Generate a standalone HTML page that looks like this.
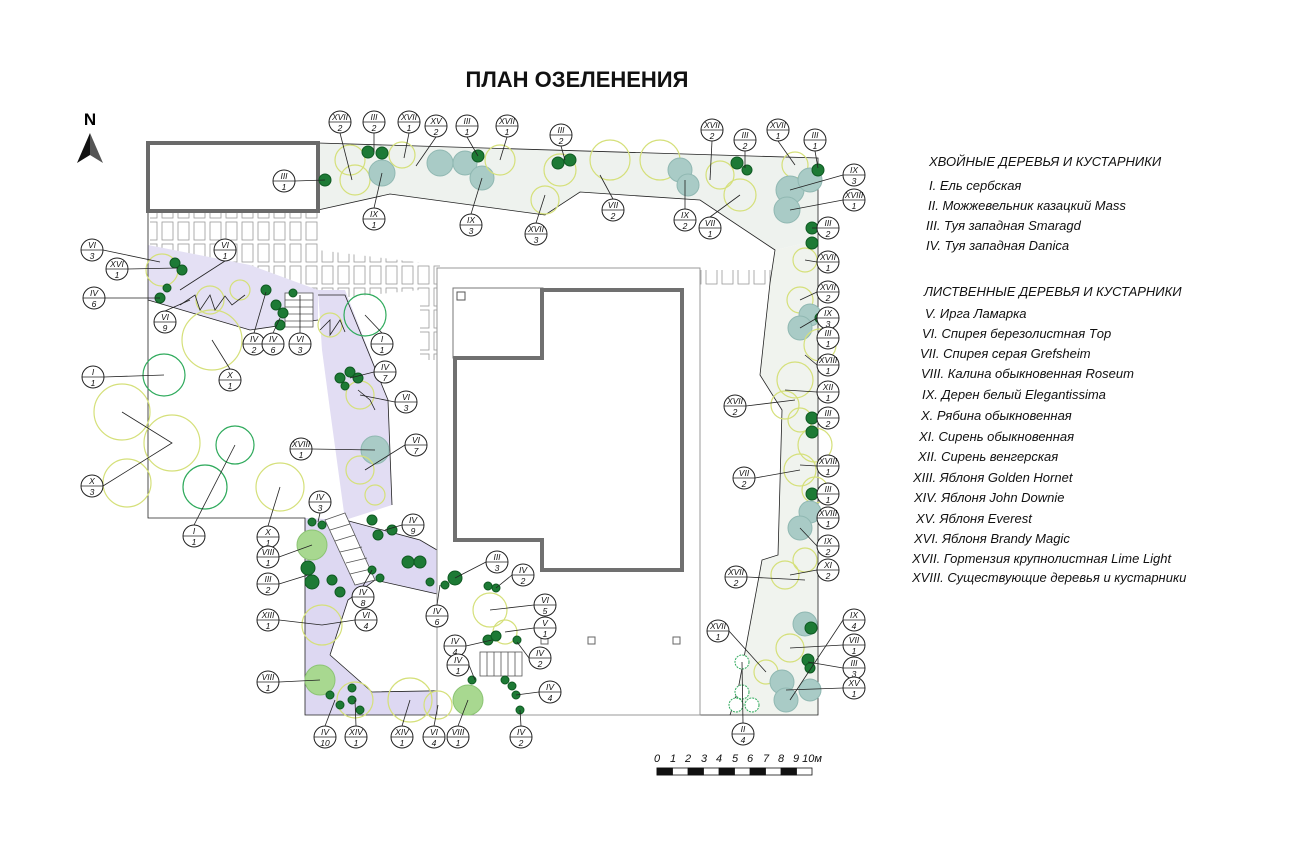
<!DOCTYPE html>
<html><head><meta charset="utf-8"><style>
html,body{margin:0;padding:0;background:#fff;}
svg{display:block;font-family:"Liberation Sans",sans-serif;}
.lb circle{fill:#fff;stroke:#222;stroke-width:1}
.lb line{stroke:#222;stroke-width:0.8}
.lb text{font-size:8.5px;font-style:italic;text-anchor:middle;fill:#111}
.ld{stroke:#222;stroke-width:0.8;fill:none}
.dk{fill:#1d7a35;stroke:#0f5a22;stroke-width:1}
.bl{fill:#a9cbc6;stroke:#90b8b2;stroke-width:1}
.yl{fill:none;stroke:#d5e07a;stroke-width:1.2}
.lg{fill:#a8d890;stroke:#8cc474}
.gr{fill:none;stroke:#2faa5c;stroke-width:1.2}
.leg{font-size:13px;font-style:italic;fill:#111}
</style></head><body>
<svg width="1300" height="864" viewBox="0 0 1300 864">
<defs>
<pattern id="br" width="16" height="22" patternUnits="userSpaceOnUse">
<rect x="2" y="2" width="11" height="18" fill="#fff" stroke="#9a9a9a" stroke-width="0.8"/>
</pattern>
</defs>
<text x="577" y="87" font-size="22" font-weight="bold" text-anchor="middle" fill="#111">ПЛАН ОЗЕЛЕНЕНИЯ</text>
<text x="90" y="125" font-size="17" font-weight="bold" text-anchor="middle">N</text>
<polygon points="90,133 77,163 90,155" fill="#111"/><polygon points="90,133 103,163 90,155" fill="#555"/>

<rect x="150" y="212" width="168" height="80" fill="url(#br)"/>
<polygon points="318,250 440,265 440,360 420,360 420,290 318,300" fill="url(#br)"/>
<rect x="700" y="270" width="78" height="15" fill="url(#br)"/>

<polygon points="318,143 818,158 818,240 775,250 700,200 580,192 545,215 390,194 318,210" fill="#eef2ee"/>
<polygon points="775,250 818,240 818,715 730,715 738,690 762,560 778,555 782,410 760,375 770,283" fill="#f0f3ee"/>
<polygon points="148,245 250,265 318,290 318,320 250,330 148,300" fill="#e4e0f4"/>
<polygon points="318,290 345,290 388,400 392,505 345,520 330,410 322,350" fill="#e2ddf3"/>
<polygon points="305,518 345,520 420,540 522,600 522,715 305,715" fill="#ddd8f2"/>
<polygon points="330,655 348,600 375,580 455,598 478,628 480,690 372,692" fill="#fff"/>

<polyline class="ld" points="148,143 148,518 305,518 305,715 522,715"/>
<polyline class="ld" points="318,143 818,158 818,715 700,715"/>
<polyline class="ld" points="318,210 390,194 545,215 580,192 700,200 775,250 770,283 760,375 782,410 778,555 762,560 738,690 730,715"/>
<polyline class="ld" points="148,300 250,330 318,320"/>
<polyline class="ld" points="318,295 345,295 388,400 392,505"/>
<polyline class="ld" points="330,655 348,600 375,580 455,598 478,628 480,690 372,692 330,655"/>
<polyline class="ld" points="345,520 420,540 522,600"/>
<rect x="148" y="143" width="170" height="68" fill="#fff" stroke="#6a6a6a" stroke-width="4"/>
<rect x="437" y="268" width="263" height="447" fill="#fff" stroke="#999" stroke-width="1"/>
<rect x="453" y="288" width="90" height="70" fill="#fff" stroke="#777" stroke-width="1"/>
<polygon points="542,290 682,290 682,570 542,570 542,540 455,540 455,358 542,358" fill="#fff" stroke="#707070" stroke-width="4"/>
<rect x="457" y="292" width="8" height="8" fill="#fff" stroke="#555"/>
<rect x="588" y="637" width="7" height="7" fill="#fff" stroke="#666"/><rect x="673" y="637" width="7" height="7" fill="#fff" stroke="#666"/><rect x="541" y="637" width="7" height="7" fill="#fff" stroke="#666"/>
<g stroke="#555" fill="#fff" stroke-width="0.8">
<rect x="285" y="293" width="28" height="34"/><line x1="285" y1="300" x2="313" y2="300"/><line x1="285" y1="307" x2="313" y2="307"/><line x1="285" y1="314" x2="313" y2="314"/><line x1="285" y1="321" x2="313" y2="321"/>
<polygon points="325,520 345,513 375,580 355,585"/><line x1="330" y1="530" x2="350" y2="524"/><line x1="335" y1="541" x2="355" y2="535"/><line x1="340" y1="552" x2="362" y2="547"/><line x1="346" y1="563" x2="367" y2="558"/><line x1="350" y1="574" x2="371" y2="569"/>
<rect x="480" y="652" width="42" height="24"/><line x1="487" y1="652" x2="487" y2="676"/><line x1="494" y1="652" x2="494" y2="676"/><line x1="501" y1="652" x2="501" y2="676"/><line x1="508" y1="652" x2="508" y2="676"/><line x1="515" y1="652" x2="515" y2="676"/>
</g>

<circle class="yl" cx="212" cy="340" r="30"/><circle class="gr" cx="164" cy="375" r="21"/><circle class="yl" cx="122" cy="412" r="28"/>
<circle class="yl" cx="172" cy="443" r="28"/><circle class="yl" cx="127" cy="483" r="24"/><circle class="gr" cx="235" cy="445" r="19"/><circle class="gr" cx="205" cy="487" r="22"/><circle class="yl" cx="280" cy="487" r="24"/><circle class="gr" cx="365" cy="315" r="21"/>
<circle class="yl" cx="350" cy="160" r="15"/><circle class="yl" cx="355" cy="180" r="15"/><circle class="bl" cx="382" cy="173" r="13"/><circle class="yl" cx="402" cy="155" r="13"/>
<circle class="bl" cx="440" cy="163" r="13"/><circle class="bl" cx="465" cy="163" r="12"/><circle class="bl" cx="482" cy="178" r="12"/><circle class="yl" cx="500" cy="160" r="15"/><circle class="yl" cx="545" cy="200" r="14"/><circle class="yl" cx="560" cy="170" r="16"/><circle class="yl" cx="610" cy="160" r="20"/><circle class="yl" cx="660" cy="160" r="20"/><circle class="bl" cx="680" cy="170" r="12"/><circle class="bl" cx="688" cy="185" r="11"/><circle class="yl" cx="720" cy="175" r="14"/><circle class="yl" cx="740" cy="195" r="16"/><circle class="yl" cx="795" cy="165" r="13"/><circle class="bl" cx="790" cy="190" r="14"/><circle class="bl" cx="787" cy="210" r="13"/><circle class="bl" cx="810" cy="180" r="12"/>
<circle class="yl" cx="805" cy="260" r="12"/><circle class="yl" cx="800" cy="300" r="13"/><circle class="bl" cx="810" cy="315" r="11"/><circle class="bl" cx="800" cy="328" r="12"/><circle class="yl" cx="820" cy="345" r="16"/><circle class="yl" cx="795" cy="380" r="18"/><circle class="yl" cx="785" cy="405" r="14"/><circle class="yl" cx="800" cy="420" r="12"/><circle class="yl" cx="815" cy="445" r="17"/><circle class="yl" cx="800" cy="470" r="16"/><circle class="yl" cx="815" cy="490" r="13"/><circle class="bl" cx="810" cy="512" r="11"/><circle class="bl" cx="800" cy="528" r="12"/><circle class="yl" cx="805" cy="560" r="12"/><circle class="yl" cx="785" cy="575" r="14"/><circle class="bl" cx="805" cy="624" r="12"/><circle class="yl" cx="790" cy="648" r="14"/><circle class="yl" cx="766" cy="672" r="12"/><circle class="bl" cx="782" cy="682" r="12"/><circle class="bl" cx="810" cy="690" r="11"/><circle class="bl" cx="786" cy="700" r="12"/>
<circle cx="742" cy="662" r="7" fill="#fff" stroke="#2faa5c" stroke-dasharray="2 1"/><circle cx="742" cy="692" r="7" fill="#fff" stroke="#2faa5c" stroke-dasharray="2 1"/><circle cx="752" cy="705" r="7" fill="#fff" stroke="#2faa5c" stroke-dasharray="2 1"/><circle cx="736" cy="705" r="7" fill="#fff" stroke="#2faa5c" stroke-dasharray="2 1"/>
<circle class="yl" cx="162" cy="270" r="16"/><circle class="yl" cx="210" cy="300" r="14"/><circle class="yl" cx="240" cy="290" r="10"/><circle class="yl" cx="330" cy="325" r="12"/><circle class="yl" cx="360" cy="395" r="14"/><circle class="bl" cx="375" cy="450" r="14"/><circle class="yl" cx="360" cy="470" r="14"/><circle class="yl" cx="375" cy="495" r="10"/><circle class="yl" cx="322" cy="625" r="20"/><circle class="yl" cx="355" cy="700" r="18"/><circle class="yl" cx="410" cy="700" r="22"/><circle class="yl" cx="438" cy="705" r="14"/><circle class="yl" cx="490" cy="610" r="17"/><circle class="yl" cx="505" cy="632" r="12"/>
<circle class="lg" cx="312" cy="545" r="15"/><circle class="lg" cx="320" cy="680" r="15"/><circle class="lg" cx="468" cy="700" r="15"/>
<g class="dk">
<circle cx="325" cy="180" r="6"/><circle cx="368" cy="152" r="6"/><circle cx="382" cy="153" r="6"/><circle cx="478" cy="156" r="6"/><circle cx="558" cy="163" r="6"/><circle cx="570" cy="160" r="6"/><circle cx="737" cy="163" r="6"/><circle cx="747" cy="170" r="5"/><circle cx="818" cy="170" r="6"/>
<circle cx="812" cy="228" r="6"/><circle cx="812" cy="243" r="6"/><circle cx="820" cy="318" r="5"/><circle cx="812" cy="418" r="6"/><circle cx="812" cy="432" r="6"/><circle cx="812" cy="494" r="6"/><circle cx="811" cy="628" r="6"/><circle cx="808" cy="660" r="6"/><circle cx="810" cy="668" r="5"/>
<circle cx="175" cy="263" r="5"/><circle cx="182" cy="270" r="5"/><circle cx="160" cy="298" r="5"/><circle cx="167" cy="288" r="4"/><circle cx="266" cy="290" r="5"/><circle cx="276" cy="305" r="5"/><circle cx="283" cy="313" r="5"/><circle cx="280" cy="325" r="5"/><circle cx="293" cy="293" r="4"/>
<circle cx="340" cy="378" r="5"/><circle cx="350" cy="372" r="5"/><circle cx="358" cy="378" r="5"/><circle cx="345" cy="386" r="4"/>
<circle cx="312" cy="522" r="4"/><circle cx="322" cy="525" r="4"/><circle cx="308" cy="568" r="7"/><circle cx="312" cy="582" r="7"/><circle cx="332" cy="580" r="5"/><circle cx="340" cy="592" r="5"/><circle cx="372" cy="520" r="5"/><circle cx="378" cy="535" r="5"/><circle cx="392" cy="530" r="5"/><circle cx="372" cy="570" r="4"/><circle cx="380" cy="578" r="4"/>
<circle cx="408" cy="562" r="6"/><circle cx="420" cy="562" r="6"/><circle cx="455" cy="578" r="7"/><circle cx="430" cy="582" r="4"/><circle cx="445" cy="585" r="4"/><circle cx="488" cy="586" r="4"/><circle cx="496" cy="588" r="4"/>
<circle cx="488" cy="640" r="5"/><circle cx="496" cy="636" r="5"/><circle cx="517" cy="640" r="4"/><circle cx="512" cy="686" r="4"/><circle cx="516" cy="695" r="4"/><circle cx="505" cy="680" r="4"/><circle cx="472" cy="680" r="4"/><circle cx="520" cy="710" r="4"/>
<circle cx="330" cy="695" r="4"/><circle cx="340" cy="705" r="4"/><circle cx="352" cy="700" r="4"/><circle cx="352" cy="688" r="4"/><circle cx="360" cy="710" r="4"/>
</g>
<polyline class="ld" points="180,305 195,295 200,310 210,295 215,310 225,296 232,305 245,295"/>
<polyline class="ld" points="320,330 330,320 330,335 340,320 345,332"/>
<polyline class="ld" points="358,390 370,400 375,410"/>

<g class="lb">
<g transform="translate(340,122)"><circle r="11"/><line x1="-11" y1="0" x2="11" y2="0"/><text y="-2">XVII</text><text y="9">2</text></g>
<g transform="translate(374,122)"><circle r="11"/><line x1="-11" y1="0" x2="11" y2="0"/><text y="-2">III</text><text y="9">2</text></g>
<g transform="translate(409,122)"><circle r="11"/><line x1="-11" y1="0" x2="11" y2="0"/><text y="-2">XVII</text><text y="9">1</text></g>
<g transform="translate(436,126)"><circle r="11"/><line x1="-11" y1="0" x2="11" y2="0"/><text y="-2">XV</text><text y="9">2</text></g>
<g transform="translate(467,126)"><circle r="11"/><line x1="-11" y1="0" x2="11" y2="0"/><text y="-2">III</text><text y="9">1</text></g>
<g transform="translate(507,126)"><circle r="11"/><line x1="-11" y1="0" x2="11" y2="0"/><text y="-2">XVII</text><text y="9">1</text></g>
<g transform="translate(561,135)"><circle r="11"/><line x1="-11" y1="0" x2="11" y2="0"/><text y="-2">III</text><text y="9">2</text></g>
<g transform="translate(712,130)"><circle r="11"/><line x1="-11" y1="0" x2="11" y2="0"/><text y="-2">XVII</text><text y="9">2</text></g>
<g transform="translate(745,140)"><circle r="11"/><line x1="-11" y1="0" x2="11" y2="0"/><text y="-2">III</text><text y="9">2</text></g>
<g transform="translate(778,130)"><circle r="11"/><line x1="-11" y1="0" x2="11" y2="0"/><text y="-2">XVII</text><text y="9">1</text></g>
<g transform="translate(815,140)"><circle r="11"/><line x1="-11" y1="0" x2="11" y2="0"/><text y="-2">III</text><text y="9">1</text></g>
<g transform="translate(284,181)"><circle r="11"/><line x1="-11" y1="0" x2="11" y2="0"/><text y="-2">III</text><text y="9">1</text></g>
<g transform="translate(374,219)"><circle r="11"/><line x1="-11" y1="0" x2="11" y2="0"/><text y="-2">IX</text><text y="9">1</text></g>
<g transform="translate(471,225)"><circle r="11"/><line x1="-11" y1="0" x2="11" y2="0"/><text y="-2">IX</text><text y="9">3</text></g>
<g transform="translate(536,234)"><circle r="11"/><line x1="-11" y1="0" x2="11" y2="0"/><text y="-2">XVII</text><text y="9">3</text></g>
<g transform="translate(613,210)"><circle r="11"/><line x1="-11" y1="0" x2="11" y2="0"/><text y="-2">VII</text><text y="9">2</text></g>
<g transform="translate(685,220)"><circle r="11"/><line x1="-11" y1="0" x2="11" y2="0"/><text y="-2">IX</text><text y="9">2</text></g>
<g transform="translate(710,228)"><circle r="11"/><line x1="-11" y1="0" x2="11" y2="0"/><text y="-2">VII</text><text y="9">1</text></g>
<g transform="translate(854,175)"><circle r="11"/><line x1="-11" y1="0" x2="11" y2="0"/><text y="-2">IX</text><text y="9">3</text></g>
<g transform="translate(854,200)"><circle r="11"/><line x1="-11" y1="0" x2="11" y2="0"/><text y="-2">XVIII</text><text y="9">1</text></g>
<g transform="translate(828,228)"><circle r="11"/><line x1="-11" y1="0" x2="11" y2="0"/><text y="-2">III</text><text y="9">2</text></g>
<g transform="translate(828,262)"><circle r="11"/><line x1="-11" y1="0" x2="11" y2="0"/><text y="-2">XVII</text><text y="9">1</text></g>
<g transform="translate(828,292)"><circle r="11"/><line x1="-11" y1="0" x2="11" y2="0"/><text y="-2">XVII</text><text y="9">2</text></g>
<g transform="translate(828,318)"><circle r="11"/><line x1="-11" y1="0" x2="11" y2="0"/><text y="-2">IX</text><text y="9">3</text></g>
<g transform="translate(828,338)"><circle r="11"/><line x1="-11" y1="0" x2="11" y2="0"/><text y="-2">III</text><text y="9">1</text></g>
<g transform="translate(828,365)"><circle r="11"/><line x1="-11" y1="0" x2="11" y2="0"/><text y="-2">XVIII</text><text y="9">1</text></g>
<g transform="translate(828,392)"><circle r="11"/><line x1="-11" y1="0" x2="11" y2="0"/><text y="-2">XII</text><text y="9">1</text></g>
<g transform="translate(828,418)"><circle r="11"/><line x1="-11" y1="0" x2="11" y2="0"/><text y="-2">III</text><text y="9">2</text></g>
<g transform="translate(828,466)"><circle r="11"/><line x1="-11" y1="0" x2="11" y2="0"/><text y="-2">XVIII</text><text y="9">1</text></g>
<g transform="translate(828,494)"><circle r="11"/><line x1="-11" y1="0" x2="11" y2="0"/><text y="-2">III</text><text y="9">1</text></g>
<g transform="translate(828,518)"><circle r="11"/><line x1="-11" y1="0" x2="11" y2="0"/><text y="-2">XVIII</text><text y="9">1</text></g>
<g transform="translate(828,546)"><circle r="11"/><line x1="-11" y1="0" x2="11" y2="0"/><text y="-2">IX</text><text y="9">2</text></g>
<g transform="translate(828,570)"><circle r="11"/><line x1="-11" y1="0" x2="11" y2="0"/><text y="-2">XI</text><text y="9">2</text></g>
<g transform="translate(854,620)"><circle r="11"/><line x1="-11" y1="0" x2="11" y2="0"/><text y="-2">IX</text><text y="9">4</text></g>
<g transform="translate(854,645)"><circle r="11"/><line x1="-11" y1="0" x2="11" y2="0"/><text y="-2">VII</text><text y="9">1</text></g>
<g transform="translate(854,668)"><circle r="11"/><line x1="-11" y1="0" x2="11" y2="0"/><text y="-2">III</text><text y="9">3</text></g>
<g transform="translate(854,688)"><circle r="11"/><line x1="-11" y1="0" x2="11" y2="0"/><text y="-2">XV</text><text y="9">1</text></g>
<g transform="translate(735,406)"><circle r="11"/><line x1="-11" y1="0" x2="11" y2="0"/><text y="-2">XVII</text><text y="9">2</text></g>
<g transform="translate(744,478)"><circle r="11"/><line x1="-11" y1="0" x2="11" y2="0"/><text y="-2">VII</text><text y="9">2</text></g>
<g transform="translate(736,577)"><circle r="11"/><line x1="-11" y1="0" x2="11" y2="0"/><text y="-2">XVII</text><text y="9">2</text></g>
<g transform="translate(718,631)"><circle r="11"/><line x1="-11" y1="0" x2="11" y2="0"/><text y="-2">XVII</text><text y="9">1</text></g>
<g transform="translate(743,734)"><circle r="11"/><line x1="-11" y1="0" x2="11" y2="0"/><text y="-2">II</text><text y="9">4</text></g>
<g transform="translate(92,250)"><circle r="11"/><line x1="-11" y1="0" x2="11" y2="0"/><text y="-2">VI</text><text y="9">3</text></g>
<g transform="translate(117,269)"><circle r="11"/><line x1="-11" y1="0" x2="11" y2="0"/><text y="-2">XVI</text><text y="9">1</text></g>
<g transform="translate(94,298)"><circle r="11"/><line x1="-11" y1="0" x2="11" y2="0"/><text y="-2">IV</text><text y="9">6</text></g>
<g transform="translate(225,250)"><circle r="11"/><line x1="-11" y1="0" x2="11" y2="0"/><text y="-2">VI</text><text y="9">1</text></g>
<g transform="translate(165,322)"><circle r="11"/><line x1="-11" y1="0" x2="11" y2="0"/><text y="-2">VI</text><text y="9">9</text></g>
<g transform="translate(254,344)"><circle r="11"/><line x1="-11" y1="0" x2="11" y2="0"/><text y="-2">IV</text><text y="9">2</text></g>
<g transform="translate(273,344)"><circle r="11"/><line x1="-11" y1="0" x2="11" y2="0"/><text y="-2">IV</text><text y="9">6</text></g>
<g transform="translate(300,344)"><circle r="11"/><line x1="-11" y1="0" x2="11" y2="0"/><text y="-2">VI</text><text y="9">3</text></g>
<g transform="translate(382,344)"><circle r="11"/><line x1="-11" y1="0" x2="11" y2="0"/><text y="-2">I</text><text y="9">1</text></g>
<g transform="translate(93,377)"><circle r="11"/><line x1="-11" y1="0" x2="11" y2="0"/><text y="-2">I</text><text y="9">1</text></g>
<g transform="translate(230,380)"><circle r="11"/><line x1="-11" y1="0" x2="11" y2="0"/><text y="-2">X</text><text y="9">1</text></g>
<g transform="translate(385,372)"><circle r="11"/><line x1="-11" y1="0" x2="11" y2="0"/><text y="-2">IV</text><text y="9">7</text></g>
<g transform="translate(406,402)"><circle r="11"/><line x1="-11" y1="0" x2="11" y2="0"/><text y="-2">VI</text><text y="9">3</text></g>
<g transform="translate(301,449)"><circle r="11"/><line x1="-11" y1="0" x2="11" y2="0"/><text y="-2">XVIII</text><text y="9">1</text></g>
<g transform="translate(416,445)"><circle r="11"/><line x1="-11" y1="0" x2="11" y2="0"/><text y="-2">VI</text><text y="9">7</text></g>
<g transform="translate(92,486)"><circle r="11"/><line x1="-11" y1="0" x2="11" y2="0"/><text y="-2">X</text><text y="9">3</text></g>
<g transform="translate(194,536)"><circle r="11"/><line x1="-11" y1="0" x2="11" y2="0"/><text y="-2">I</text><text y="9">1</text></g>
<g transform="translate(268,537)"><circle r="11"/><line x1="-11" y1="0" x2="11" y2="0"/><text y="-2">X</text><text y="9">1</text></g>
<g transform="translate(320,502)"><circle r="11"/><line x1="-11" y1="0" x2="11" y2="0"/><text y="-2">IV</text><text y="9">3</text></g>
<g transform="translate(268,557)"><circle r="11"/><line x1="-11" y1="0" x2="11" y2="0"/><text y="-2">VIII</text><text y="9">1</text></g>
<g transform="translate(268,584)"><circle r="11"/><line x1="-11" y1="0" x2="11" y2="0"/><text y="-2">III</text><text y="9">2</text></g>
<g transform="translate(268,620)"><circle r="11"/><line x1="-11" y1="0" x2="11" y2="0"/><text y="-2">XIII</text><text y="9">1</text></g>
<g transform="translate(268,682)"><circle r="11"/><line x1="-11" y1="0" x2="11" y2="0"/><text y="-2">VIII</text><text y="9">1</text></g>
<g transform="translate(413,525)"><circle r="11"/><line x1="-11" y1="0" x2="11" y2="0"/><text y="-2">IV</text><text y="9">9</text></g>
<g transform="translate(363,597)"><circle r="11"/><line x1="-11" y1="0" x2="11" y2="0"/><text y="-2">IV</text><text y="9">8</text></g>
<g transform="translate(366,620)"><circle r="11"/><line x1="-11" y1="0" x2="11" y2="0"/><text y="-2">VI</text><text y="9">4</text></g>
<g transform="translate(497,562)"><circle r="11"/><line x1="-11" y1="0" x2="11" y2="0"/><text y="-2">III</text><text y="9">3</text></g>
<g transform="translate(523,575)"><circle r="11"/><line x1="-11" y1="0" x2="11" y2="0"/><text y="-2">IV</text><text y="9">2</text></g>
<g transform="translate(545,605)"><circle r="11"/><line x1="-11" y1="0" x2="11" y2="0"/><text y="-2">VI</text><text y="9">5</text></g>
<g transform="translate(545,628)"><circle r="11"/><line x1="-11" y1="0" x2="11" y2="0"/><text y="-2">V</text><text y="9">1</text></g>
<g transform="translate(437,616)"><circle r="11"/><line x1="-11" y1="0" x2="11" y2="0"/><text y="-2">IV</text><text y="9">6</text></g>
<g transform="translate(455,646)"><circle r="11"/><line x1="-11" y1="0" x2="11" y2="0"/><text y="-2">IV</text><text y="9">4</text></g>
<g transform="translate(458,665)"><circle r="11"/><line x1="-11" y1="0" x2="11" y2="0"/><text y="-2">IV</text><text y="9">1</text></g>
<g transform="translate(540,658)"><circle r="11"/><line x1="-11" y1="0" x2="11" y2="0"/><text y="-2">IV</text><text y="9">2</text></g>
<g transform="translate(550,692)"><circle r="11"/><line x1="-11" y1="0" x2="11" y2="0"/><text y="-2">IV</text><text y="9">4</text></g>
<g transform="translate(325,737)"><circle r="11"/><line x1="-11" y1="0" x2="11" y2="0"/><text y="-2">IV</text><text y="9">10</text></g>
<g transform="translate(356,737)"><circle r="11"/><line x1="-11" y1="0" x2="11" y2="0"/><text y="-2">XIV</text><text y="9">1</text></g>
<g transform="translate(402,737)"><circle r="11"/><line x1="-11" y1="0" x2="11" y2="0"/><text y="-2">XIV</text><text y="9">1</text></g>
<g transform="translate(434,737)"><circle r="11"/><line x1="-11" y1="0" x2="11" y2="0"/><text y="-2">VI</text><text y="9">4</text></g>
<g transform="translate(458,737)"><circle r="11"/><line x1="-11" y1="0" x2="11" y2="0"/><text y="-2">VIII</text><text y="9">1</text></g>
<g transform="translate(521,737)"><circle r="11"/><line x1="-11" y1="0" x2="11" y2="0"/><text y="-2">IV</text><text y="9">2</text></g>
</g>
<g class="ld">
<line x1="340" y1="133" x2="352" y2="180"/><line x1="374" y1="133" x2="374" y2="152"/><line x1="409" y1="133" x2="404" y2="158"/><line x1="436" y1="137" x2="416" y2="166"/><line x1="467" y1="137" x2="478" y2="156"/><line x1="507" y1="137" x2="500" y2="160"/><line x1="561" y1="146" x2="565" y2="160"/><line x1="712" y1="141" x2="710" y2="180"/><line x1="745" y1="151" x2="745" y2="168"/><line x1="778" y1="141" x2="795" y2="165"/><line x1="815" y1="151" x2="818" y2="168"/>
<line x1="295" y1="181" x2="325" y2="180"/><line x1="374" y1="208" x2="382" y2="173"/><line x1="471" y1="214" x2="482" y2="178"/><line x1="536" y1="223" x2="545" y2="195"/><line x1="613" y1="199" x2="600" y2="175"/><line x1="685" y1="209" x2="685" y2="180"/><line x1="710" y1="217" x2="740" y2="195"/>
<line x1="843" y1="175" x2="790" y2="190"/><line x1="843" y1="200" x2="790" y2="210"/><line x1="817" y1="228" x2="812" y2="228"/><line x1="817" y1="262" x2="805" y2="260"/><line x1="817" y1="292" x2="800" y2="300"/><line x1="817" y1="318" x2="800" y2="328"/><line x1="817" y1="365" x2="805" y2="355"/><line x1="817" y1="392" x2="785" y2="390"/><line x1="817" y1="466" x2="800" y2="465"/><line x1="817" y1="546" x2="800" y2="528"/><line x1="817" y1="570" x2="790" y2="575"/>
<line x1="843" y1="620" x2="790" y2="700"/><line x1="843" y1="645" x2="790" y2="648"/><line x1="843" y1="668" x2="808" y2="662"/><line x1="843" y1="688" x2="786" y2="690"/>
<line x1="746" y1="406" x2="795" y2="400"/><line x1="755" y1="478" x2="800" y2="470"/><line x1="747" y1="577" x2="805" y2="580"/><line x1="729" y1="631" x2="766" y2="672"/><line x1="743" y1="723" x2="742" y2="662"/>
<line x1="103" y1="250" x2="160" y2="262"/><line x1="128" y1="269" x2="178" y2="268"/><line x1="105" y1="298" x2="160" y2="298"/><line x1="225" y1="261" x2="180" y2="290"/><line x1="165" y1="311" x2="190" y2="300"/><line x1="254" y1="333" x2="266" y2="292"/><line x1="273" y1="333" x2="280" y2="318"/><line x1="300" y1="333" x2="300" y2="295"/><line x1="382" y1="333" x2="365" y2="315"/>
<line x1="104" y1="377" x2="164" y2="375"/><line x1="230" y1="369" x2="212" y2="340"/><line x1="374" y1="372" x2="350" y2="378"/><line x1="395" y1="402" x2="360" y2="395"/><line x1="312" y1="449" x2="375" y2="450"/><line x1="405" y1="445" x2="365" y2="470"/>
<polyline points="103,486 172,443 122,412"/><line x1="194" y1="525" x2="235" y2="445"/><line x1="268" y1="526" x2="280" y2="487"/>
<line x1="320" y1="513" x2="318" y2="522"/><line x1="279" y1="557" x2="312" y2="545"/><line x1="279" y1="584" x2="308" y2="575"/><line x1="279" y1="620" x2="322" y2="625"/><line x1="279" y1="682" x2="320" y2="680"/><line x1="402" y1="525" x2="385" y2="530"/><line x1="363" y1="586" x2="372" y2="570"/><line x1="355" y1="620" x2="322" y2="625"/>
<line x1="486" y1="562" x2="455" y2="578"/><line x1="512" y1="575" x2="496" y2="588"/><line x1="534" y1="605" x2="490" y2="610"/><line x1="534" y1="628" x2="505" y2="632"/><line x1="437" y1="605" x2="440" y2="585"/><line x1="466" y1="646" x2="492" y2="640"/><line x1="469" y1="665" x2="475" y2="680"/><line x1="529" y1="658" x2="517" y2="642"/><line x1="539" y1="692" x2="516" y2="695"/>
<line x1="325" y1="726" x2="335" y2="700"/><line x1="356" y1="726" x2="355" y2="700"/><line x1="402" y1="726" x2="410" y2="700"/><line x1="434" y1="726" x2="438" y2="705"/><line x1="458" y1="726" x2="468" y2="700"/><line x1="521" y1="726" x2="520" y2="710"/>
</g>

<g font-size="11" font-style="italic" fill="#111">
<text x="657" y="762" text-anchor="middle">0</text><text x="673" y="762" text-anchor="middle">1</text><text x="688" y="762" text-anchor="middle">2</text><text x="704" y="762" text-anchor="middle">3</text><text x="719" y="762" text-anchor="middle">4</text><text x="735" y="762" text-anchor="middle">5</text><text x="750" y="762" text-anchor="middle">6</text><text x="766" y="762" text-anchor="middle">7</text><text x="781" y="762" text-anchor="middle">8</text><text x="796" y="762" text-anchor="middle">9</text><text x="812" y="762" text-anchor="middle">10м</text>
</g>
<g stroke="#111" stroke-width="0.8">
<rect x="657" y="768" width="155" height="7" fill="#fff"/>
<rect x="657" y="768" width="15.5" height="7" fill="#111"/><rect x="688" y="768" width="15.5" height="7" fill="#111"/><rect x="719" y="768" width="15.5" height="7" fill="#111"/><rect x="750" y="768" width="15.5" height="7" fill="#111"/><rect x="781" y="768" width="15.5" height="7" fill="#111"/>
</g>

<g class="leg">
<text x="929" y="166">ХВОЙНЫЕ ДЕРЕВЬЯ И КУСТАРНИКИ</text>
<text x="929" y="190">I. Ель сербская</text>
<text x="928" y="210">II. Можжевельник казацкий Mass</text>
<text x="926" y="230">III. Туя западная Smaragd</text>
<text x="926" y="250">IV. Туя западная Danica</text>
<text x="924" y="296">ЛИСТВЕННЫЕ ДЕРЕВЬЯ И КУСТАРНИКИ</text>
<text x="925" y="318">V. Ирга Ламарка</text>
<text x="922" y="338">VI. Спирея березолистная Tор</text>
<text x="920" y="358">VII. Спирея серая Grefsheim</text>
<text x="921" y="378">VIII. Калина обыкновенная Roseum</text>
<text x="922" y="399">IX. Дерен белый Elegantissima</text>
<text x="921" y="420">X. Рябина обыкновенная</text>
<text x="919" y="441">XI. Сирень обыкновенная</text>
<text x="918" y="461">XII. Сирень венгерская</text>
<text x="913" y="482">XIII. Яблоня Golden Hornet</text>
<text x="914" y="502">XIV. Яблоня John Downie</text>
<text x="916" y="523">XV. Яблоня Everest</text>
<text x="914" y="543">XVI. Яблоня Brandy Magic</text>
<text x="912" y="563">XVII. Гортензия крупнолистная Lime Light</text>
<text x="912" y="582">XVIII. Существующие деревья и кустарники</text>
</g>
</svg>
</body></html>
